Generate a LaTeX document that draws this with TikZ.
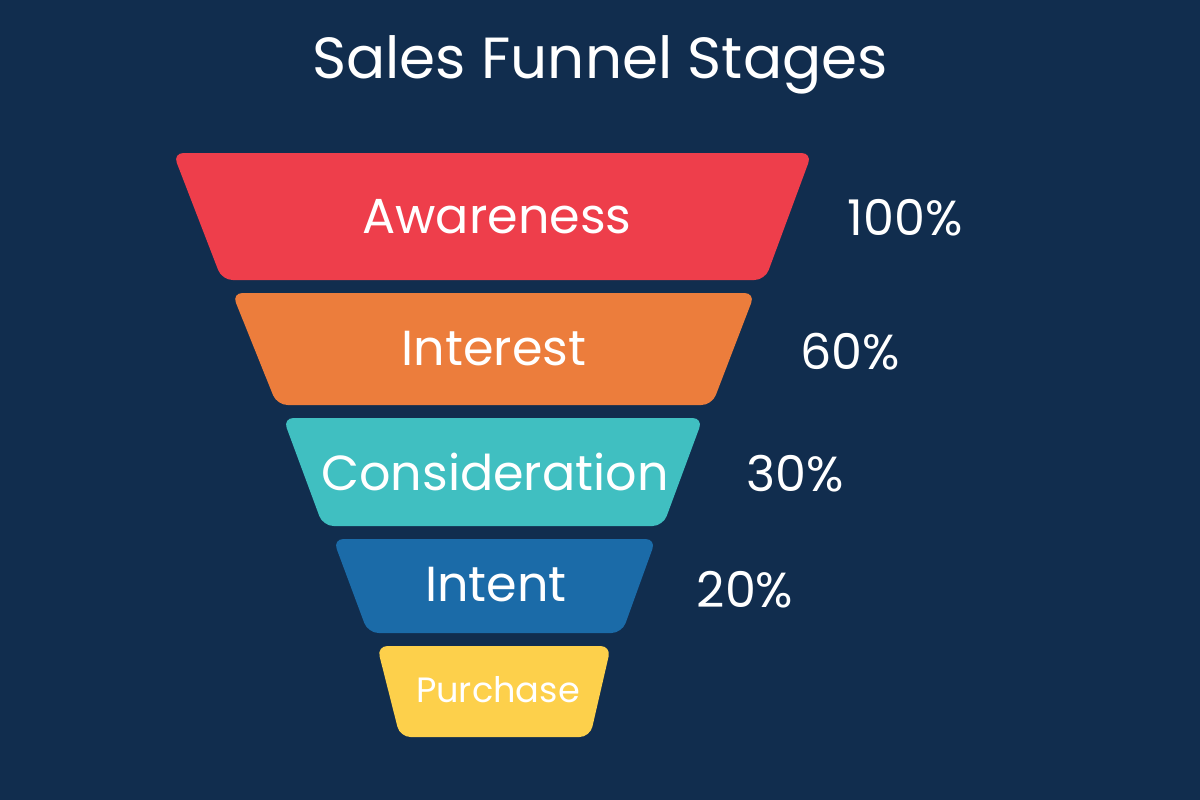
\documentclass[tikz,border=0pt]{standalone}
\usepackage{fontspec}
\setmainfont{Poppins}
\usetikzlibrary{positioning,calc}
\definecolor{bgnavy}{HTML}{112D4E}
\definecolor{stred}{HTML}{EE3E4B}
\definecolor{storange}{HTML}{EC7D3C}
\definecolor{stteal}{HTML}{40BFC1}
\definecolor{stblue}{HTML}{1B6BA8}
\definecolor{styellow}{HTML}{FDD04B}
\tikzset{
  stage/.style={rounded corners=3pt},
  stagelabel/.style={text=white, font=\fontsize{14}{16}\selectfont},
  pct/.style={text=white, font=\fontsize{14}{16}\selectfont}
}
\begin{document}
\begin{tikzpicture}[x=0.01cm, y=-0.01cm]
      % Background
      \fill[bgnavy] (0,0) rectangle (1200,800);
      \useasboundingbox (0,0) rectangle (1200,800);

      % Title
      \node[text=white, font=\fontsize{16.5}{19}\selectfont] (title) at (600,65) {Sales Funnel Stages};

      % Funnel stages
      \fill[stage, stred] (173,153) -- (812,153) -- (765,280) -- (222,280) -- cycle;
      \fill[stage, storange] (232,293) -- (755,293) -- (712,405) -- (277,405) -- cycle;
      \fill[stage, stteal] (283,418) -- (703,418) -- (663,526) -- (323,526) -- cycle;
      \fill[stage, stblue] (333,539) -- (656,539) -- (622,633) -- (368,633) -- cycle;
      \fill[stage, styellow] (377,646) -- (611,646) -- (590,737) -- (400,737) -- cycle;

      % Stage labels
      \node[stagelabel] (aware) at (497,217) {Awareness};
      \node[stagelabel] (inter) at (494,349) {Interest};
      \node[stagelabel] (consid) at (495,472) {Consideration};
      \node[stagelabel] (intent) at (496,585) {Intent};
      \node[stagelabel, font=\fontsize{10}{12}\selectfont] (purch) at (498,690) {Purchase};

      % Percentages
      \node[pct] (p1) at (905,218) {100\%};
      \node[pct] (p2) at (850,352) {60\%};
      \node[pct] (p3) at (795,474) {30\%};
      \node[pct] (p4) at (745,590) {20\%};
    \end{tikzpicture}
\end{document}
